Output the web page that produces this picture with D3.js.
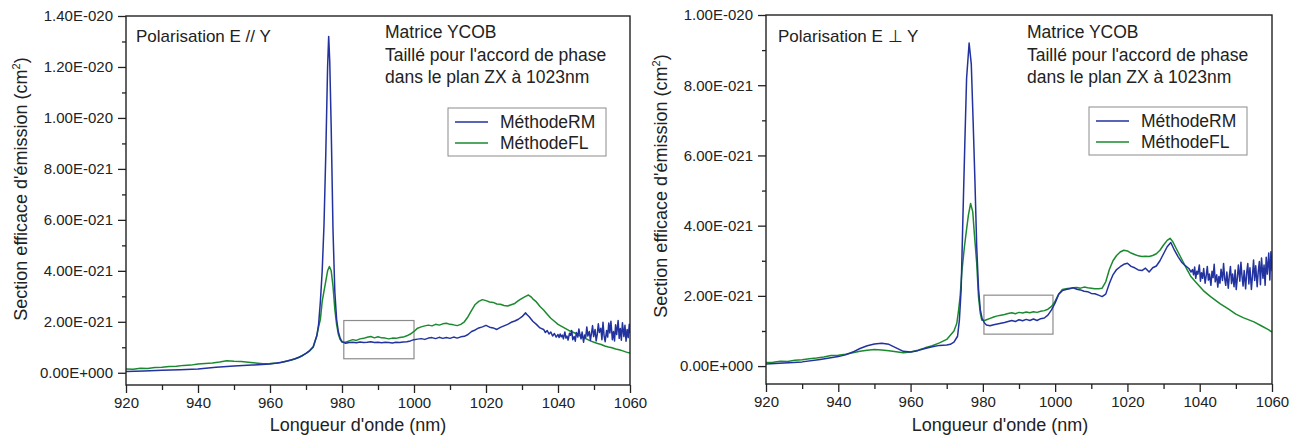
<!DOCTYPE html>
<html>
<head>
<meta charset="utf-8">
<script src="https://cdn.jsdelivr.net/npm/d3@7"></script>
<style>
    body { margin: 0; background: #fff; }
    svg { font-family: "Liberation Sans", Arial, sans-serif; }
</style>
</head>
<body>
<svg id="chart" width="1304" height="437"></svg>
<script>
// values are in units of 1e-21 cm2
const xTicks = [920, 940, 960, 980, 1000, 1020, 1040, 1060];
const xMinorTicks = [930, 950, 970, 990, 1010, 1030, 1050];
const yTicksLeft = [0, 2, 4, 6, 8, 10, 12, 14];
const yTickLabelsLeft = ["0.00E+000", "2.00E-021", "4.00E-021", "6.00E-021", "8.00E-021", "1.00E-020", "1.20E-020", "1.40E-020"];
const yMinorLeft = [1, 3, 5, 7, 9, 11, 13];
const yTicksRight = [0, 2, 4, 6, 8, 10];
const yTickLabelsRight = ["0.00E+000", "2.00E-021", "4.00E-021", "6.00E-021", "8.00E-021", "1.00E-020"];
const yMinorRight = [1, 3, 5, 7, 9];
const seriesNames = ["MéthodeRM", "MéthodeFL"];

// Polarisation E // Y
const leftRM = [
    [920, 0.05], [925, 0.07], [930, 0.1], [935, 0.12], [940, 0.15], [945, 0.22], [950, 0.27], [955, 0.3],
    [960, 0.34], [963, 0.4], [965, 0.47], [967, 0.55], [969, 0.67], [970, 0.76], [971, 0.87], [972, 1.02],
    [973, 1.45], [973.5, 1.9], [974, 2.8], [974.5, 4.0], [975, 5.8], [975.5, 8.6], [976, 12.0], [976.3, 13.2],
    [976.6, 12.2], [977, 9.6], [977.5, 5.6], [978, 3.2], [978.5, 2.1], [979, 1.6], [979.5, 1.35], [980, 1.22],
    [981, 1.16], [982, 1.19], [983, 1.2], [984, 1.18], [985, 1.21], [986, 1.19], [987, 1.2], [988, 1.22],
    [989, 1.19], [990, 1.2], [991, 1.18], [992, 1.2], [993, 1.19], [994, 1.17], [995, 1.2], [996, 1.19],
    [997, 1.21], [998, 1.22], [999, 1.25], [1000, 1.3], [1001, 1.32], [1002, 1.34], [1003, 1.31], [1004, 1.36],
    [1005, 1.38], [1006, 1.34], [1007, 1.39], [1008, 1.35], [1009, 1.38], [1010, 1.35], [1011, 1.4], [1012, 1.36],
    [1013, 1.41], [1014, 1.43], [1015, 1.5], [1016, 1.62], [1017, 1.68], [1018, 1.76], [1019, 1.8], [1020, 1.86],
    [1021, 1.79], [1022, 1.76], [1023, 1.7], [1024, 1.78], [1025, 1.84], [1026, 1.9], [1027, 1.98], [1028, 2.03],
    [1029, 2.1], [1030, 2.2], [1031, 2.35], [1031.5, 2.27], [1032, 2.2], [1033, 2.02], [1034, 1.9], [1035, 1.76],
    [1036, 1.7], [1036.5, 1.58], [1037, 1.66], [1037.5, 1.52], [1038, 1.6], [1038.5, 1.44], [1039, 1.54],
    [1039.5, 1.4], [1040, 1.5], [1040.3, 1.38], [1040.6, 1.52], [1040.9, 1.41], [1041.2, 1.48], [1041.5, 1.33],
    [1041.9, 1.6], [1042.2, 1.36], [1042.5, 1.44], [1042.8, 1.28], [1043.2, 1.55], [1043.5, 1.47], [1043.8, 1.66],
    [1044.1, 1.3], [1044.5, 1.42], [1044.8, 1.24], [1045.1, 1.58], [1045.5, 1.4], [1045.8, 1.72], [1046.1, 1.5],
    [1046.4, 1.33], [1046.7, 1.6], [1047.1, 1.2], [1047.4, 1.48], [1047.7, 1.38], [1048, 1.8], [1048.3, 1.44],
    [1048.7, 1.62], [1049, 1.27], [1049.3, 1.55], [1049.6, 1.85], [1049.9, 1.42], [1050.3, 1.7], [1050.6, 1.25],
    [1050.9, 1.5], [1051.2, 1.92], [1051.5, 1.58], [1051.9, 1.75], [1052.2, 1.3], [1052.5, 1.98], [1052.8, 1.45],
    [1053.1, 1.22], [1053.5, 1.66], [1053.8, 1.4], [1054.1, 1.95], [1054.4, 1.56], [1054.7, 2.02], [1055.1, 1.3],
    [1055.4, 1.62], [1055.7, 1.25], [1056, 1.88], [1056.3, 1.5], [1056.7, 2.05], [1057, 1.35], [1057.3, 1.74],
    [1057.6, 1.28], [1057.9, 1.96], [1058.3, 1.42], [1058.6, 1.86], [1058.9, 1.24], [1059.2, 1.7], [1059.5, 1.38],
    [1059.8, 1.9], [1060, 1.55]
];
const leftFL = [
    [920, 0.15], [922, 0.14], [924, 0.18], [926, 0.17], [928, 0.21], [930, 0.22], [932, 0.25], [934, 0.26],
    [936, 0.29], [938, 0.3], [940, 0.34], [942, 0.36], [944, 0.38], [946, 0.42], [948, 0.47], [950, 0.45],
    [952, 0.44], [954, 0.41], [956, 0.38], [958, 0.35], [960, 0.36], [962, 0.38], [964, 0.43], [966, 0.5],
    [968, 0.6], [970, 0.76], [971, 0.85], [972, 1.0], [973, 1.45], [973.5, 1.8], [974, 2.1], [974.5, 2.8],
    [975, 3.2], [975.5, 3.6], [976, 4.0], [976.5, 4.17], [977, 4.0], [977.5, 3.4], [978, 2.5], [978.5, 1.9],
    [979, 1.5], [979.5, 1.3], [980, 1.2], [981, 1.2], [982, 1.25], [983, 1.3], [984, 1.27], [985, 1.33],
    [986, 1.35], [987, 1.39], [988, 1.42], [989, 1.37], [990, 1.41], [991, 1.37], [992, 1.36], [993, 1.33],
    [994, 1.36], [995, 1.35], [996, 1.38], [997, 1.4], [998, 1.45], [999, 1.52], [1000, 1.62], [1001, 1.75],
    [1002, 1.8], [1003, 1.84], [1004, 1.87], [1005, 1.84], [1006, 1.9], [1007, 1.87], [1008, 1.92], [1009, 1.94],
    [1010, 1.9], [1011, 1.88], [1012, 1.85], [1013, 1.9], [1014, 2.0], [1015, 2.2], [1016, 2.45], [1017, 2.68],
    [1018, 2.8], [1019, 2.87], [1020, 2.83], [1021, 2.78], [1022, 2.76], [1023, 2.7], [1024, 2.69], [1025, 2.64],
    [1026, 2.62], [1027, 2.67], [1028, 2.72], [1029, 2.83], [1030, 2.92], [1031, 3.0], [1031.8, 3.05],
    [1032.5, 2.98], [1033, 2.9], [1034, 2.78], [1035, 2.6], [1036, 2.46], [1037, 2.3], [1038, 2.14],
    [1039, 2.02], [1040, 1.9], [1041, 1.82], [1042, 1.74], [1043, 1.66], [1044, 1.6], [1045, 1.54],
    [1046, 1.46], [1047, 1.38], [1048, 1.32], [1049, 1.25], [1050, 1.2], [1051, 1.15], [1052, 1.11],
    [1053, 1.05], [1054, 1.01], [1055, 0.98], [1056, 0.93], [1057, 0.9], [1058, 0.86], [1059, 0.81], [1060, 0.77]
];

// Polarisation E ⊥ Y
const rightRM = [
    [920, 0.06], [925, 0.09], [930, 0.12], [935, 0.19], [940, 0.27], [942, 0.32], [944, 0.4], [946, 0.5],
    [948, 0.58], [950, 0.63], [952, 0.65], [954, 0.62], [956, 0.52], [958, 0.42], [960, 0.4], [962, 0.44],
    [964, 0.5], [966, 0.55], [968, 0.59], [970, 0.6], [971, 0.62], [972, 0.68], [973, 0.85], [973.5, 1.3],
    [974, 2.2], [974.5, 4.3], [975, 6.3], [975.5, 8.2], [976.2, 9.2], [976.8, 8.6], [977.3, 7.0], [977.8, 5.3],
    [978.3, 3.4], [978.8, 2.2], [979.3, 1.6], [979.8, 1.35], [980.5, 1.22], [981, 1.17], [982, 1.15],
    [983, 1.18], [984, 1.2], [985, 1.22], [986, 1.24], [987, 1.27], [988, 1.3], [989, 1.27], [990, 1.32],
    [991, 1.29], [992, 1.33], [993, 1.3], [994, 1.34], [995, 1.3], [996, 1.35], [997, 1.37], [998, 1.45],
    [999, 1.6], [1000, 1.8], [1001, 2.05], [1002, 2.15], [1003, 2.18], [1004, 2.2], [1005, 2.23], [1006, 2.19],
    [1007, 2.17], [1008, 2.13], [1009, 2.12], [1010, 2.07], [1011, 2.06], [1012, 2.02], [1013, 1.98],
    [1014, 2.05], [1015, 2.35], [1016, 2.6], [1017, 2.75], [1018, 2.83], [1019, 2.9], [1020, 2.93], [1021, 2.84],
    [1022, 2.8], [1023, 2.74], [1024, 2.72], [1025, 2.79], [1026, 2.68], [1027, 2.8], [1028, 2.85], [1029, 3.0],
    [1030, 3.2], [1031, 3.4], [1032, 3.52], [1033, 3.3], [1034, 3.12], [1035, 2.96], [1036, 2.86], [1037, 2.78],
    [1037.6, 2.68], [1038, 2.75], [1038.3, 2.6], [1038.6, 2.82], [1038.9, 2.5], [1039.2, 2.7], [1039.5, 2.62],
    [1039.9, 2.88], [1040.2, 2.42], [1040.5, 2.66], [1040.8, 2.5], [1041.1, 2.78], [1041.5, 2.36], [1041.8, 2.58],
    [1042.1, 2.84], [1042.4, 2.45], [1042.7, 2.62], [1043.1, 2.3], [1043.4, 2.7], [1043.7, 2.52], [1044, 2.9],
    [1044.3, 2.4], [1044.7, 2.6], [1045, 2.25], [1045.3, 2.55], [1045.6, 2.36], [1045.9, 2.76], [1046.3, 2.44],
    [1046.6, 2.92], [1046.9, 2.5], [1047.2, 2.3], [1047.5, 2.68], [1047.9, 2.22], [1048.2, 2.58], [1048.5, 2.84],
    [1048.8, 2.35], [1049.1, 2.62], [1049.5, 2.26], [1049.8, 2.74], [1050.1, 2.18], [1050.4, 2.5], [1050.7, 2.88],
    [1051.1, 2.42], [1051.4, 2.96], [1051.7, 2.56], [1052, 2.28], [1052.3, 2.72], [1052.7, 2.2], [1053, 2.66],
    [1053.3, 2.92], [1053.6, 2.34], [1053.9, 2.8], [1054.3, 2.18], [1054.6, 2.58], [1054.9, 3.02], [1055.2, 2.44],
    [1055.5, 2.86], [1055.9, 2.26], [1056.2, 2.7], [1056.5, 2.98], [1056.8, 2.32], [1057.1, 3.08], [1057.5, 2.5],
    [1057.8, 2.88], [1058.1, 2.3], [1058.4, 3.1], [1058.7, 2.62], [1059.1, 3.22], [1059.4, 2.45], [1059.7, 3.26],
    [1060, 2.7]
];
const rightFL = [
    [920, 0.1], [922, 0.11], [924, 0.14], [926, 0.13], [928, 0.17], [930, 0.18], [932, 0.21], [934, 0.23],
    [936, 0.26], [938, 0.3], [940, 0.31], [942, 0.34], [944, 0.38], [946, 0.42], [948, 0.45], [950, 0.47],
    [952, 0.46], [954, 0.44], [956, 0.41], [958, 0.38], [960, 0.4], [962, 0.45], [964, 0.52], [966, 0.58],
    [968, 0.66], [970, 0.76], [971, 0.88], [972, 1.0], [972.8, 1.22], [973.3, 1.6], [973.7, 1.97], [974.2, 2.7],
    [974.9, 3.4], [975.5, 3.9], [976, 4.3], [976.6, 4.63], [977.2, 4.4], [977.7, 3.7], [978.3, 2.93],
    [978.8, 1.97], [979.3, 1.5], [979.7, 1.31], [980.5, 1.3], [981, 1.32], [982, 1.36], [983, 1.4], [984, 1.43],
    [985, 1.45], [986, 1.47], [987, 1.5], [988, 1.52], [989, 1.49], [990, 1.53], [991, 1.51], [992, 1.54],
    [993, 1.52], [994, 1.55], [995, 1.53], [996, 1.56], [997, 1.58], [998, 1.62], [999, 1.7], [1000, 1.85],
    [1001, 2.05], [1002, 2.18], [1003, 2.2], [1004, 2.22], [1005, 2.23], [1006, 2.24], [1007, 2.22], [1008, 2.25],
    [1009, 2.23], [1010, 2.22], [1011, 2.2], [1012, 2.2], [1013, 2.22], [1014, 2.4], [1015, 2.75], [1016, 3.0],
    [1017, 3.15], [1018, 3.25], [1019, 3.3], [1020, 3.28], [1021, 3.22], [1022, 3.18], [1023, 3.14], [1024, 3.12],
    [1025, 3.13], [1026, 3.12], [1027, 3.15], [1028, 3.2], [1029, 3.3], [1030, 3.45], [1031, 3.58],
    [1031.8, 3.64], [1032.5, 3.55], [1033.5, 3.35], [1034.5, 3.15], [1035.5, 2.95], [1036.5, 2.75],
    [1037.5, 2.56], [1039, 2.38], [1041, 2.15], [1043, 1.98], [1045.6, 1.78], [1048, 1.62], [1050, 1.48],
    [1052, 1.38], [1055, 1.26], [1057, 1.15], [1059, 1.04], [1060, 0.97]
];

// zoom boxes drawn in data coordinates: [x0, x1, y0, y1]
const leftBox = [980.5, 1000, 0.55, 2.05];
const rightBox = [980.3, 999.4, 0.91, 2.02];

const colors = ["#22329e", "#1b8a2e"];
const svg = d3.select("#chart");

const drawPanel = (cfg) => {
    const x = d3.scaleLinear().domain([920, 1060]).range([cfg.left, cfg.right]);
    const y = d3.scaleLinear().domain(cfg.yDomain).range([cfg.bottom, cfg.top]);
    const g = svg.append("g");

    const clipId = `clip-${cfg.id}`;
    g.append("clipPath").attr("id", clipId)
        .append("rect")
        .attr("x", cfg.left).attr("y", cfg.top)
        .attr("width", cfg.right - cfg.left).attr("height", cfg.bottom - cfg.top);

    // zoom box
    g.append("rect")
        .attr("x", x(cfg.box[0]))
        .attr("y", y(cfg.box[3]))
        .attr("width", x(cfg.box[1]) - x(cfg.box[0]))
        .attr("height", y(cfg.box[2]) - y(cfg.box[3]))
        .attr("fill", "none")
        .attr("stroke", "#8c8c8c")
        .attr("stroke-width", 1.2);

    const line = d3.line()
        .x(d => x(d[0]))
        .y(d => y(d[1]));

    // green underneath blue, like the original
    [cfg.fl, cfg.rm].forEach((values, i) => {
        g.append("path")
            .datum(values)
            .attr("clip-path", `url(#${clipId})`)
            .attr("fill", "none")
            .attr("stroke", i === 0 ? colors[1] : colors[0])
            .attr("stroke-width", 1.5)
            .attr("stroke-linejoin", "round")
            .attr("d", line);
    });

    // axes
    const xAxis = g.append("g")
        .attr("transform", `translate(0,${cfg.bottom})`)
        .call(d3.axisBottom(x).tickValues(xTicks).tickSize(8).tickPadding(4).tickSizeOuter(0)
            .tickFormat(d3.format("d")));
    g.append("g")
        .attr("transform", `translate(0,${cfg.bottom})`)
        .call(d3.axisBottom(x).tickValues(xMinorTicks).tickSize(5).tickFormat(""));
    const yAxis = g.append("g")
        .attr("transform", `translate(${cfg.left},0)`)
        .call(d3.axisLeft(y).tickValues(cfg.yTicks).tickSize(8).tickPadding(5)
            .tickFormat((d, i) => cfg.yLabels[i]));
    g.append("g")
        .attr("transform", `translate(${cfg.left},0)`)
        .call(d3.axisLeft(y).tickValues(cfg.yMinor).tickSize(4).tickFormat(""));

    g.selectAll(".domain").remove();
    g.selectAll(".tick line").attr("stroke", "#222").attr("stroke-width", 1.3);
    xAxis.selectAll("text").attr("font-size", 15).attr("fill", "#222").attr("font-family", "Liberation Sans, Arial, sans-serif");
    yAxis.selectAll("text").attr("font-size", 15).attr("fill", "#222").attr("font-family", "Liberation Sans, Arial, sans-serif");

    // frame
    g.append("rect")
        .attr("x", cfg.left).attr("y", cfg.top)
        .attr("width", cfg.right - cfg.left).attr("height", cfg.bottom - cfg.top)
        .attr("fill", "none")
        .attr("stroke", "#222")
        .attr("stroke-width", 1.4);

    // axis titles
    g.append("text")
        .attr("x", cfg.xTitleX).attr("y", 431)
        .attr("text-anchor", "middle")
        .attr("font-size", 18)
        .attr("fill", "#222")
        .text("Longueur d'onde (nm)");

    const yt = g.append("text")
        .attr("transform", `translate(${cfg.yTitleX},${cfg.yTitleY}) rotate(-90)`)
        .attr("text-anchor", "middle")
        .attr("font-size", 18)
        .attr("fill", "#222");
    yt.append("tspan").text("Section efficace d'émission (cm");
    yt.append("tspan").attr("dy", -7).attr("font-size", 11).text("2");
    yt.append("tspan").attr("dy", 7).text(")");

    // annotations
    g.append("text")
        .attr("x", cfg.polX).attr("y", 41.5)
        .attr("font-size", 17)
        .attr("fill", "#222")
        .text(cfg.polText);

    ["Matrice YCOB", "Taillé pour l'accord de phase", "dans le plan ZX à 1023nm"].forEach((t, i) => {
        g.append("text")
            .attr("x", cfg.noteX).attr("y", 38 + i * 22.5)
            .attr("font-size", 17.5)
            .attr("fill", "#222")
            .text(t);
    });

    // legend
    const lg = g.append("g").attr("transform", `translate(${cfg.legX},${cfg.legY})`);
    lg.append("rect")
        .attr("width", 158).attr("height", 48)
        .attr("fill", "#fff")
        .attr("stroke", "#8c8c8c")
        .attr("stroke-width", 1);
    seriesNames.forEach((name, i) => {
        lg.append("line")
            .attr("x1", 7).attr("x2", 40)
            .attr("y1", 14 + i * 21).attr("y2", 14 + i * 21)
            .attr("stroke", colors[i])
            .attr("stroke-width", 1.5);
        lg.append("text")
            .attr("x", 52).attr("y", 20 + i * 21)
            .attr("font-size", 17.5)
            .attr("fill", "#222")
            .text(name);
    });
};

drawPanel({
    id: "left", left: 126, right: 630, top: 16, bottom: 385,
    yDomain: [-0.48, 14], yTicks: yTicksLeft, yLabels: yTickLabelsLeft, yMinor: yMinorLeft,
    rm: leftRM, fl: leftFL, box: leftBox,
    xTitleX: 358, yTitleX: 27, yTitleY: 189,
    polX: 136, polText: "Polarisation E // Y",
    noteX: 385, legX: 448, legY: 108
});

drawPanel({
    id: "right", left: 766, right: 1272, top: 15, bottom: 384,
    yDomain: [-0.51, 10], yTicks: yTicksRight, yLabels: yTickLabelsRight, yMinor: yMinorRight,
    rm: rightRM, fl: rightFL, box: rightBox,
    xTitleX: 1000, yTitleX: 667, yTitleY: 186,
    polX: 778, polText: "Polarisation E \u22A5 Y",
    noteX: 1027, legX: 1089, legY: 107
});
</script>
</body>
</html>
